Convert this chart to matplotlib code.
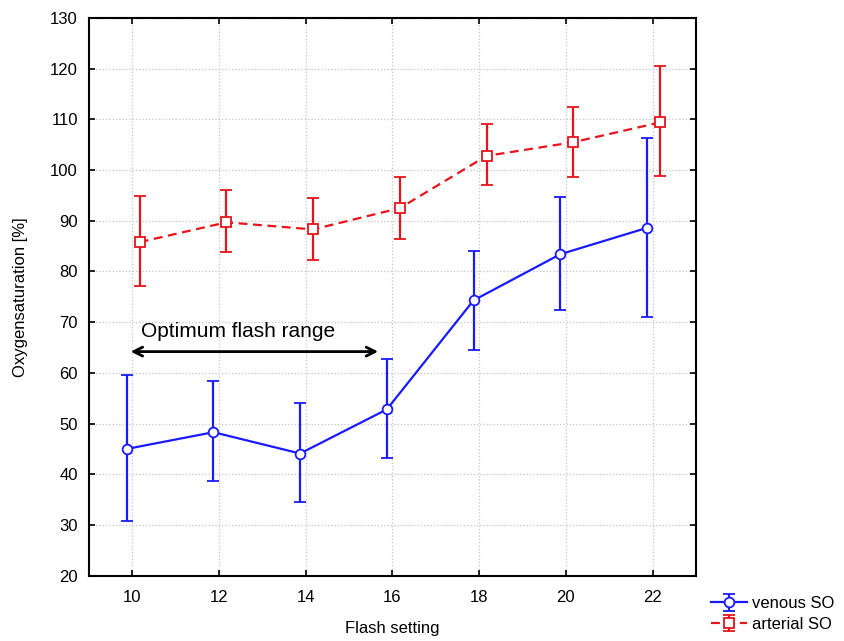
import numpy as np
import matplotlib.pyplot as plt

plt.rcParams['font.family'] = ['Liberation Sans', 'DejaVu Sans']

# Flash setting vs oxygen saturation (mean with error range)
flash = np.array([10, 12, 14, 16, 18, 20, 22])

venous_mean = [45.0, 48.3, 44.1, 52.8, 74.3, 83.4, 88.6]
venous_low = [30.8, 38.7, 34.6, 43.3, 64.6, 72.4, 71.0]
venous_high = [59.5, 58.4, 54.1, 62.8, 84.1, 94.7, 106.3]

arterial_mean = [85.8, 89.7, 88.3, 92.5, 102.8, 105.5, 109.4]
arterial_low = [77.1, 83.9, 82.3, 86.5, 97.0, 98.6, 98.8]
arterial_high = [94.9, 96.0, 94.4, 98.6, 109.1, 112.5, 120.6]

fig = plt.figure(figsize=(8.44, 6.41), dpi=100)
ax = fig.add_axes([0.1055, 0.1019, 0.719, 0.870])

# venous
v_err = [np.array(venous_mean) - np.array(venous_low),
         np.array(venous_high) - np.array(venous_mean)]
ax.errorbar(flash - 0.13, venous_mean, yerr=v_err, color='#1a1aff', lw=1.6,
            marker='o', ms=7, mfc='white', mec='#1a1aff', mew=1.3,
            capsize=4, capthick=1.6, elinewidth=1.6, label='venous SO', zorder=3)

# arterial
a_err = [np.array(arterial_mean) - np.array(arterial_low),
         np.array(arterial_high) - np.array(arterial_mean)]
ax.errorbar(flash + 0.17, arterial_mean, yerr=a_err, color='#e8131b', lw=1.6,
            ls=(0, (4, 2.5)), marker='s', ms=7, mfc='white', mec='#e8131b',
            mew=1.3, capsize=4, capthick=1.6, elinewidth=1.6,
            label='arterial SO', zorder=3)

# optimum range arrow
ax.annotate('', xy=(9.96, 64.2), xytext=(15.67, 64.2),
            arrowprops=dict(arrowstyle='<->', color='black', lw=2,
                            mutation_scale=16, shrinkA=0, shrinkB=0))
ax.text(10.2, 67.1, 'Optimum flash range', fontsize=15, ha='left', va='baseline')

ax.set_xlim(9, 23)
ax.set_ylim(20, 130)
ax.set_xticks(flash)
ax.set_yticks(np.arange(20, 131, 10))
ax.tick_params(direction='in', top=True, right=True, labelsize=12, length=4,
               width=1.2)
ax.tick_params(axis='x', pad=10)
ax.tick_params(axis='y', pad=8)
ax.grid(True, ls=':', color='#c4c4c4', lw=0.9)
for s in ax.spines.values():
    s.set_linewidth(1.5)

ax.set_xlabel('Flash setting', fontsize=12, labelpad=12)
ax.set_ylabel('Oxygensaturation [%]', fontsize=12, labelpad=16)

fig.legend(loc='upper left', bbox_to_anchor=(0.842, 0.07), fontsize=12,
           frameon=False, handlelength=2.2, handletextpad=0.3,
           labelspacing=0.35, borderaxespad=0, borderpad=0)

fig.savefig('out.png', dpi=100)
